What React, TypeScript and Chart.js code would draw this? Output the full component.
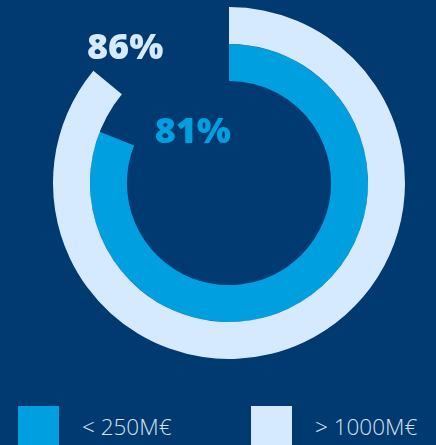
import React, { useEffect, useRef } from "react";
import { Chart, registerables } from "chart.js";

Chart.register(...registerables);

const categories = ["> 1000M€", "< 250M€"];
const outerValues = [86, 14];
const innerValues = [81, 19];
const ringLabels = ["86%", "81%"];

const BG = "#003a70";
const LIGHT = "#d6eaff";
const MID = "#009fe0";

const labelPlugin = {
  id: "ringLabels",
  afterDatasetsDraw(chart: any) {
    const ctx = chart.ctx;
    const meta0 = chart.getDatasetMeta(0).data[0] as any;
    const meta1 = chart.getDatasetMeta(1).data[0] as any;
    const cx = meta0.x;
    const cy = meta0.y;
    ctx.save();
    ctx.font = "800 36px 'Open Sans', sans-serif";
    ctx.textAlign = "center";
    ctx.textBaseline = "middle";
    const r0 = meta0.outerRadius;
    ctx.fillStyle = LIGHT;
    ctx.fillText(ringLabels[0], cx - r0 * 0.59, cy - r0 * 0.765);
    const r1 = meta1.outerRadius;
    ctx.fillStyle = MID;
    ctx.fillText(ringLabels[1], cx - r1 * 0.26, cy - r1 * 0.36);
    ctx.restore();
  },
};

export default function App() {
  const ref = useRef<HTMLCanvasElement | null>(null);

  useEffect(() => {
    document.body.style.margin = "0";
    document.body.style.background = BG;
    const chart = new Chart(ref.current as HTMLCanvasElement, {
      type: "doughnut",
      data: {
        labels: categories,
        datasets: [
          {
            data: outerValues,
            backgroundColor: [LIGHT, "rgba(0,0,0,0)"],
            borderWidth: 0,
            hoverOffset: 0,
          },
          {
            data: innerValues,
            backgroundColor: [MID, "rgba(0,0,0,0)"],
            borderWidth: 0,
            hoverOffset: 0,
          },
        ],
      },
      options: {
        animation: false,
        responsive: false,
        cutout: "58%",
        layout: { padding: { top: 7, bottom: 7, left: 22, right: 0 } },
        plugins: { legend: { display: false }, tooltip: { enabled: false } },
        events: [],
      },
      plugins: [labelPlugin],
    });
    return () => chart.destroy();
  }, []);

  const legendItems = [
    { label: categories[1], color: MID, left: 18 },
    { label: categories[0], color: LIGHT, left: 251 },
  ];

  return (
    <div style={{ position: "relative", width: 436, height: 445, background: BG, overflow: "hidden" }}>
      <canvas ref={ref} width={436} height={366} style={{ display: "block" }} />
      {legendItems.map((it) => (
        <div key={it.label} style={{ position: "absolute", left: it.left, top: 406, display: "flex", alignItems: "center" }}>
          <div style={{ width: 41, height: 40, background: it.color }} />
          <span
            style={{
              marginLeft: 23,
              color: "#d4e2f2",
              fontFamily: "'Open Sans', sans-serif",
              fontWeight: 300,
              fontSize: 22.5,
              whiteSpace: "pre",
            }}
          >
            {it.label}
          </span>
        </div>
      ))}
    </div>
  );
}
